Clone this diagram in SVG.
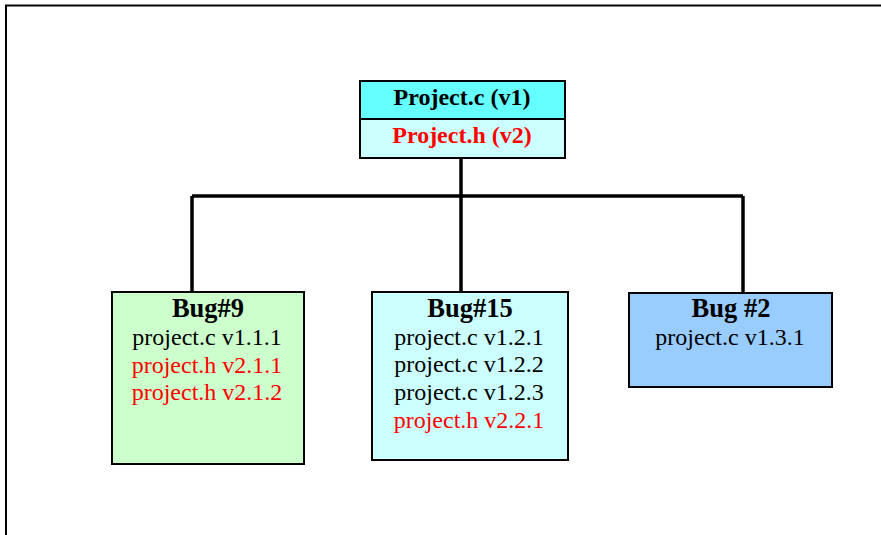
<svg xmlns="http://www.w3.org/2000/svg" width="881" height="535" viewBox="0 0 881 535">
<style>
.box{stroke:#000;stroke-width:2}
.t{font-family:"Liberation Serif","Times New Roman",serif;font-size:24px;text-anchor:middle}
.b{font-weight:bold}
.h{font-size:26.5px}
.red{fill:#ff0000}
.k{fill:#000}
.conn{stroke:#000;stroke-width:3.5;fill:none}
</style>
<rect width="881" height="535" fill="#fff"/>
<path d="M6,535 V5.5 H881" fill="none" stroke="#000" stroke-width="2"/>
<g id="connectors">
<path class="conn" d="M461,158 V196"/>
<path class="conn" d="M192,196 H743"/>
<path class="conn" d="M192,196 V292"/>
<path class="conn" d="M461,196 V292"/>
<path class="conn" d="M743,196 V293"/>
</g>
<g id="project">
<rect class="box" x="360" y="81" width="205" height="38" fill="#66ffff"/>
<rect class="box" x="360" y="119" width="205" height="39" fill="#ccffff"/>
<text class="t b k" x="462" y="105">Project.c (v1)</text>
<text class="t b red" x="462" y="143">Project.h (v2)</text>
</g>
<g id="bug9">
<rect class="box" x="112" y="292" width="192" height="172" fill="#ccffcc"/>
<text class="t b h k" x="208" y="317">Bug#9</text>
<text class="t k" x="207" y="345">project.c v1.1.1</text>
<text class="t red" x="207" y="372.5">project.h v2.1.1</text>
<text class="t red" x="207" y="400">project.h v2.1.2</text>
</g>
<g id="bug15">
<rect class="box" x="372" y="292" width="196" height="168" fill="#ccffff"/>
<text class="t b h k" x="470" y="317">Bug#15</text>
<text class="t k" x="469" y="345">project.c v1.2.1</text>
<text class="t k" x="469" y="372">project.c v1.2.2</text>
<text class="t k" x="469" y="400">project.c v1.2.3</text>
<text class="t red" x="469" y="428">project.h v2.2.1</text>
</g>
<g id="bug2">
<rect class="box" x="629" y="293" width="203" height="94" fill="#99ccff"/>
<text class="t b h k" x="731" y="317">Bug #2</text>
<text class="t k" x="730" y="345">project.c v1.3.1</text>
</g>
</svg>
